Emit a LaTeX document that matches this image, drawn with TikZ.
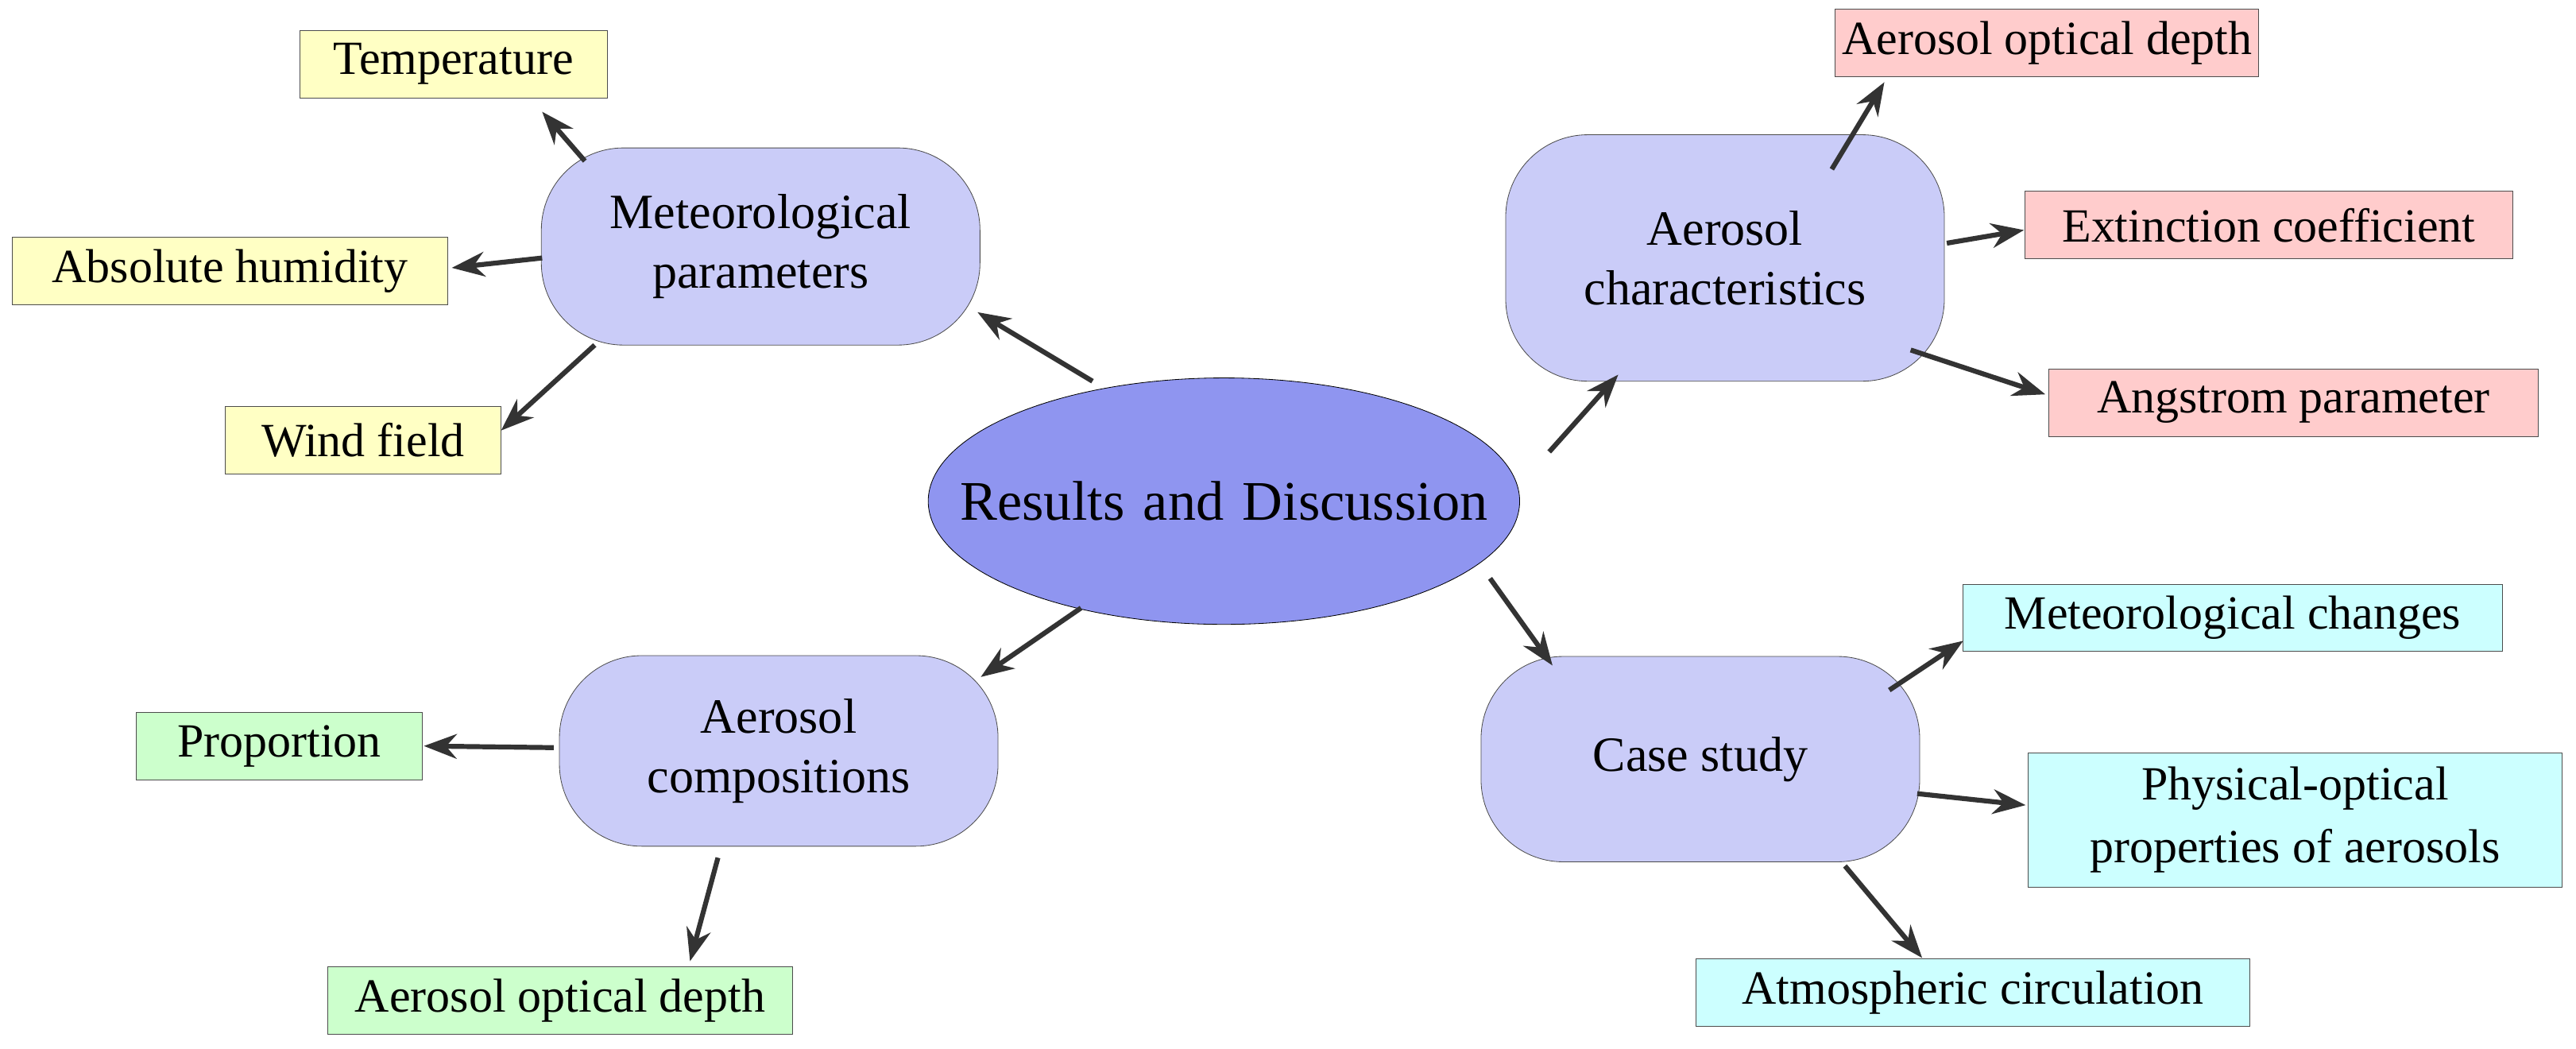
\documentclass[tikz,border=0pt]{standalone}
\usepackage{fontspec}
\setmainfont{Liberation Serif}
\usetikzlibrary{shapes.geometric,arrows.meta}
\definecolor{cen}{HTML}{8F95F0}
\definecolor{mid}{HTML}{CACCF8}
\definecolor{yel}{HTML}{FFFFC4}
\definecolor{red}{HTML}{FFCCCC}
\definecolor{cya}{HTML}{CCFFFF}
\definecolor{gre}{HTML}{CCFFCC}
\begin{document}
\begin{tikzpicture}[x=1pt,y=-1pt,
  mid/.style={draw=black!70,fill=mid,rounded corners=50pt,minimum width=267pt,minimum height=120pt,align=center,font=\fontsize{30}{36}\selectfont},
  leaf/.style={draw=black!70,minimum height=41pt,inner xsep=4pt,inner ysep=2pt,align=center,font=\fontsize{29}{34}\selectfont},
  arr/.style={-{Stealth[length=20pt,width=15pt]},line width=3pt,draw=black!80}]
\useasboundingbox (0,0) rectangle (1568,638);
\node[ellipse,inner sep=0pt,draw=black,fill=cen,minimum width=360pt,minimum height=150pt,font=\fontsize{34}{40}\selectfont,text width=0pt,align=center] (c) at (745,305) {\makebox[0pt]{Results and Discussion}};
\node[mid] (met) at (463,150) {Meteorological\\parameters};
\node[mid,minimum height=150pt] (ach) at (1050,157) {Aerosol\\characteristics};
\node[mid,minimum height=116pt] (com) at (474,457) {Aerosol\\compositions};
\node[mid,minimum height=125pt] (cas) at (1035,462) {Case study};
\node[leaf,fill=yel,minimum width=187pt] (t) at (276,39) {Temperature};
\node[leaf,fill=yel,minimum width=265pt] (h) at (140,165) {Absolute humidity};
\node[leaf,fill=yel,minimum width=168pt] (w) at (221,268) {Wind field};
\node[leaf,fill=red,minimum width=250pt] (r1) at (1246,26) {Aerosol optical depth};
\node[leaf,fill=red,minimum width=297pt] (r2) at (1381,137) {Extinction coefficient};
\node[leaf,fill=red,minimum width=298pt] (r3) at (1396,245) {Angstrom parameter};
\node[leaf,fill=cya,minimum width=328pt] (b1) at (1359,376) {Meteorological changes};
\node[leaf,fill=cya,minimum width=325pt,minimum height=82pt,font=\fontsize{29}{38}\selectfont] (b2) at (1397,499) {Physical-optical\\properties of aerosols};
\node[leaf,fill=cya,minimum width=337pt] (b3) at (1201,604) {Atmospheric circulation};
\node[leaf,fill=gre,minimum width=174pt] (g1) at (170,454) {Proportion};
\node[leaf,fill=gre,minimum width=283pt] (g2) at (341,609) {Aerosol optical depth};
% connector end points
\coordinate (s1) at (665,232); \coordinate (e1) at (595,190);
\coordinate (s2) at (943,275); \coordinate (e2) at (985,228);
\coordinate (s3) at (658,370); \coordinate (e3) at (597,412);
\coordinate (s4) at (907,352); \coordinate (e4) at (945,405);
\coordinate (s5) at (356,98);  \coordinate (e5) at (330,68);
\coordinate (s6) at (330,157); \coordinate (e6) at (275,163);
\coordinate (s7) at (362,210); \coordinate (e7) at (305,262);
\coordinate (s8) at (1115,103); \coordinate (e8) at (1147,50);
\coordinate (s9) at (1185,148); \coordinate (e9) at (1232,140);
\coordinate (s10) at (1163,213); \coordinate (e10) at (1245,240);
\coordinate (s11) at (1150,420); \coordinate (e11) at (1195,390);
\coordinate (s12) at (1167,483); \coordinate (e12) at (1233,490);
\coordinate (s13) at (1123,527); \coordinate (e13) at (1170,583);
\coordinate (s14) at (337,455); \coordinate (e14) at (258,454);
\coordinate (s15) at (437,522); \coordinate (e15) at (420,585);
\foreach \i in {1,...,15} {\draw[arr] (s\i) -- (e\i);}
\end{tikzpicture}
\end{document}
